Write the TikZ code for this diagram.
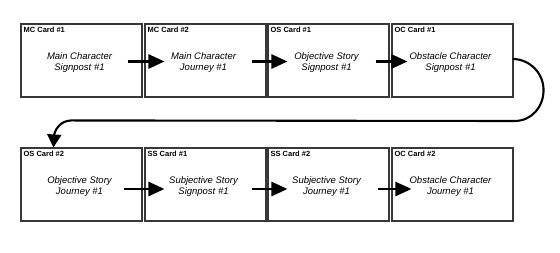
\documentclass[tikz,border=0pt]{standalone}
\usepackage{fontspec}
\setmainfont{Liberation Sans}
\usetikzlibrary{arrows.meta,calc}
\begin{document}
\begin{tikzpicture}[x=1pt,y=-1pt,
  card/.style={draw=black!78,line width=1.1pt,minimum width=121pt,minimum height=73pt,inner sep=0pt},
  cardtag/.style={anchor=north west,inner sep=0pt,font=\fontsize{7.5}{9}\selectfont\bfseries},
  cardtext/.style={align=center,inner sep=0pt,font=\fontsize{9.5}{11}\selectfont\itshape},
  flow/.style={line width=2.6pt,-{Triangle[length=16pt,width=14pt]}},
  wrap/.style={line width=2.1pt,-{Triangle[length=13pt,width=14pt]}}]
\useasboundingbox (0,0) rectangle (560,253);

% top row of cards
\node[card] (c1) at (81.5,60.5) {};
\node[card] (c2) at (205.5,60.5) {};
\node[card] (c3) at (328.5,60.5) {};
\node[card] (c4) at (452.5,60.5) {};
% bottom row of cards
\node[card] (c5) at (81.5,184.5) {};
\node[card] (c6) at (205.5,184.5) {};
\node[card] (c7) at (328.5,184.5) {};
\node[card] (c8) at (452.5,184.5) {};

% card tags
\node[cardtag] at ($(c1.north west)+(3,3)$) {MC Card \#1};
\node[cardtag] at ($(c2.north west)+(3,3)$) {MC Card \#2};
\node[cardtag] at ($(c3.north west)+(3,3)$) {OS Card \#1};
\node[cardtag] at ($(c4.north west)+(3,3)$) {OC Card \#1};
\node[cardtag] at ($(c5.north west)+(3,3)$) {OS Card \#2};
\node[cardtag] at ($(c6.north west)+(3,3)$) {SS Card \#1};
\node[cardtag] at ($(c7.north west)+(3,3)$) {SS Card \#2};
\node[cardtag] at ($(c8.north west)+(3,3)$) {OC Card \#2};

% card contents
\node[cardtext] (t1) at ($(c1.center)+(-2,2)$) {Main Character\\Signpost \#1};
\node[cardtext] (t2) at ($(c2.center)+(-2,2)$) {Main Character\\Journey \#1};
\node[cardtext] (t3) at ($(c3.center)+(-2,2)$) {Objective Story\\Signpost \#1};
\node[cardtext] (t4) at ($(c4.center)+(-2,2)$) {Obstacle Character\\Signpost \#1};
\node[cardtext] (t5) at ($(c5.center)+(-2,2)$) {Objective Story\\Journey \#1};
\node[cardtext] (t6) at ($(c6.center)+(-2,2)$) {Subjective Story\\Signpost \#1};
\node[cardtext] (t7) at ($(c7.center)+(-2,2)$) {Subjective Story\\Journey \#1};
\node[cardtext] (t8) at ($(c8.center)+(-2,2)$) {Obstacle Character\\Journey \#1};

% sequence arrows along each row
\draw[flow] ($(c1.east)+(-15,1)$) -- ($(c2.west)+(20,1)$);
\draw[flow] ($(c2.east)+(-15,1)$) -- ($(c3.west)+(20,1)$);
\draw[flow] ($(c3.east)+(-14,1)$) -- ($(c4.west)+(16,1)$);
\draw[flow] ($(c5.east)+(-19,4.5)$) -- ($(c6.west)+(20,4.5)$);
\draw[flow] ($(c6.east)+(-15,4.5)$) -- ($(c7.west)+(20,4.5)$);
\draw[flow] ($(c7.east)+(-12,4.5)$) -- ($(c8.west)+(20,4.5)$);

% wrap-around from the end of the top row to the start of the bottom row
\coordinate (w0) at ($(c4.east)+(-1,-1.5)$);
\coordinate (w1) at ($(c5.north west)+(33,0)$);
\coordinate (w2) at ($(w1)+(18,-27)$);
\draw[wrap] (w0) .. controls ++(17,0) and ++(0,-17) .. ++(31,31)
  .. controls ++(0,17) and ++(17,0) .. ++(-29,31)
  -- (w2)
  .. controls ++(-12,0) and ++(1,-16) .. (w1);
\end{tikzpicture}
\end{document}
